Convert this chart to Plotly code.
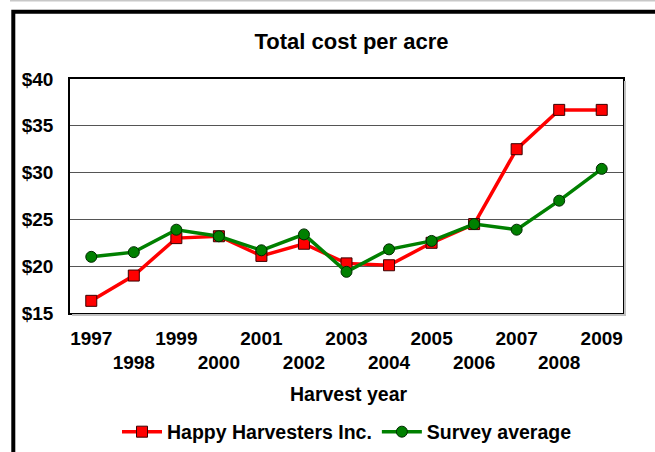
import plotly.graph_objects as go

years = ["1997", "1998", "1999", "2000", "2001", "2002", "2003",
         "2004", "2005", "2006", "2007", "2008", "2009"]
happy = [16.3, 19.0, 23.0, 23.2, 21.1, 22.4, 20.3, 20.1, 22.5, 24.5, 32.5, 36.7, 36.7]
survey = [21.0, 21.5, 23.9, 23.2, 21.7, 23.4, 19.4, 21.8, 22.7, 24.5, 23.9, 27.0, 30.4]
y_ticks = [15, 20, 25, 30, 35, 40]

W, H = 655, 452
L, R, T, B = 70, 32, 79, 139
PW, PH = W - L - R, H - T - B


def px(x):
    return (x - L) / PW


def py(y):
    return (H - B - y) / PH


FONT = "Liberation Sans, Arial, sans-serif"

ticktext = [y if i % 2 == 0 else "<br>" + y for i, y in enumerate(years)]
y_ticktext = ["$%d" % v for v in y_ticks]

fig = go.Figure()
fig.add_trace(go.Scatter(
    x=years, y=happy, name="Happy Harvesters Inc.", mode="lines+markers",
    line=dict(color="#FF0000", width=3.5),
    marker=dict(symbol="square", size=11, color="#FF0000",
                line=dict(color="#3a0000", width=1)),
))
fig.add_trace(go.Scatter(
    x=years, y=survey, name="Survey average", mode="lines+markers",
    line=dict(color="#008000", width=3.5),
    marker=dict(symbol="circle", size=11, color="#008000",
                line=dict(color="#002a00", width=1)),
))

shapes = [
    # outer gray line
    dict(type="line", xref="paper", yref="paper", x0=px(10), x1=px(660),
         y0=py(0.5), y1=py(0.5), line=dict(color="#c8c8c8", width=2), layer="below"),
    # black frame
    dict(type="rect", xref="paper", yref="paper", x0=px(13.3), x1=px(720),
         y0=py(520), y1=py(11.7), line=dict(color="black", width=4), layer="below"),
    # plot-area shadow
    dict(type="line", xref="paper", yref="paper", x0=px(625), x1=px(625),
         y0=py(315), y1=py(81), line=dict(color="#c0c0c0", width=2)),
    dict(type="line", xref="paper", yref="paper", x0=px(72), x1=px(626),
         y0=py(315), y1=py(315), line=dict(color="#c0c0c0", width=2)),
]

fig.update_layout(
    width=W, height=H,
    margin=dict(l=L, r=R, t=T, b=B, pad=0, autoexpand=False),
    paper_bgcolor="white", plot_bgcolor="white",
    font=dict(family=FONT, size=19, color="black", weight="bold"),
    title=dict(text="Total cost per acre", x=px(351.5), xref="paper",
               xanchor="center", y=1 - 41.5 / H, yref="container", yanchor="middle",
               font=dict(family=FONT, size=22, color="black", weight="bold")),
    xaxis=dict(type="category", range=[-0.5, 12.5], tickmode="array",
               tickvals=years, ticktext=ticktext, tickangle=0, automargin=False,
               showgrid=False,
               showline=True, linecolor="black", linewidth=1.5, mirror=True,
               ticks="", ticklabelstandoff=7, zeroline=False),
    yaxis=dict(range=[15, 40], tickmode="array", tickvals=y_ticks,
               ticktext=y_ticktext, automargin=False,
               showgrid=True, gridcolor="#555555", gridwidth=1,
               showline=True, linecolor="black", linewidth=1.5, mirror=True,
               ticks="", ticklabelstandoff=11, zeroline=False),
    legend=dict(orientation="h", x=px(347), xanchor="center", y=py(432),
                yanchor="middle", font=dict(family=FONT, size=19.5, weight="bold"),
                bgcolor="rgba(0,0,0,0)", itemwidth=40, tracegroupgap=0),
    annotations=[dict(text="Harvest year", xref="paper", yref="paper",
                      x=px(348.5), y=py(393.5), xanchor="center", yanchor="middle",
                      showarrow=False,
                      font=dict(family=FONT, size=19.5, color="black", weight="bold"))],
    shapes=shapes,
    showlegend=True,
)

fig.write_html("out.html")
